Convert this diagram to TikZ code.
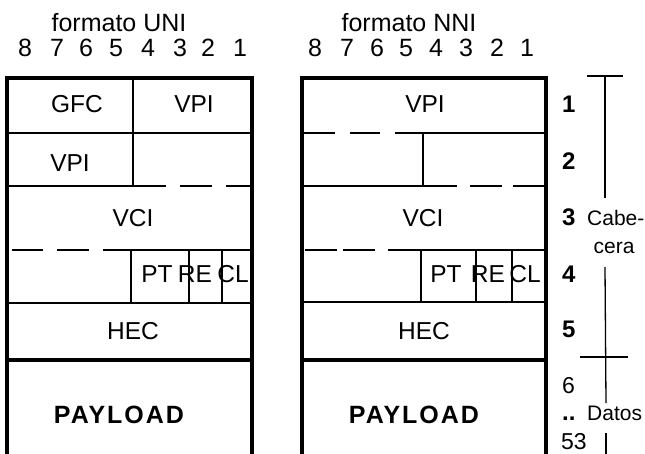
\documentclass[tikz,border=0pt]{standalone}
\usepackage{fontspec}
\setmainfont{Liberation Sans}
\begin{document}
\begin{tikzpicture}[x=1pt,y=-1pt,
  frame/.style={line width=4.2pt, line join=miter},
  thinline/.style={line width=1.4pt},
  dashseg/.style={line width=2.2pt},
  fld/.style={font=\fontsize{24.5}{26}\selectfont, inner sep=0pt, anchor=base},
  hdr/.style={font=\fontsize{25}{26}\selectfont, inner sep=0pt, anchor=base},
  bigl/.style={font=\fontsize{25}{26}\selectfont\bfseries\addfontfeature{LetterSpace=8}, inner sep=0pt, anchor=base},
  rnum/.style={font=\fontsize{24}{26}\selectfont\bfseries, inner sep=0pt, anchor=base west},
  rdig/.style={font=\fontsize{23}{26}\selectfont, inner sep=0pt, anchor=base west},
  rtxt/.style={font=\fontsize{21}{24}\selectfont, inner sep=0pt, anchor=base west},
  brk/.style={line width=1.3pt}]
\useasboundingbox (0,0) rectangle (645,454);

% ---------- headers ----------
\node[hdr] (tuni) at (119,32) {formato UNI};
\node[hdr] (tnni) at (409,32) {formato NNI};
\foreach \d/\x in {8/25,7/57,6/86,5/116,4/148,3/180,2/208,1/240}
  \node[hdr] (u\d) at (\x,57) {\d};
\foreach \d/\x in {8/315,7/347,6/377,5/406,4/436,3/466,2/497,1/527}
  \node[hdr] (n\d) at (\x,57) {\d};

% ---------- UNI frame ----------
\draw[thinline] (7,133) -- (252,133);
\draw[thinline] (133,78) -- (133,186);
\draw[thinline] (7,186) -- (166,186);
\draw[dashseg] (180,186) -- (212,186) (226,186) -- (252,186);
\draw[dashseg] (12,250) -- (43,250) (57,250) -- (89,250) (103,250) -- (131,250);
\draw[thinline] (131,250) -- (252,250);
\draw[thinline] (131,250) -- (131,303) (189,250) -- (189,303) (222,250) -- (222,303);
\draw[thinline] (7,303) -- (252,303);
\draw[frame] (7,360) -- (252,360);
\draw[frame] (7,456) -- (7,78) -- (252,78) -- (252,456) -- cycle;

\node[fld] (gfc) at (77,113) {GFC};
\node[fld] (uvpi1) at (194,113) {VPI};
\node[fld] (uvpi2) at (70,172) {VPI};
\node[fld] (uvci) at (133,227) {VCI};
\node[fld] (upt) at (157,283) {PT};
\node[fld] (ure) at (195,283) {RE};
\node[fld] (ucl) at (233,283) {CL};
\node[fld] (uhec) at (133,339) {HEC};
\node[bigl] (upay) at (119,423) {PAYLOAD};

% ---------- NNI frame ----------
\draw[dashseg] (302,133) -- (335,133) (350,133) -- (380,133) (395,133) -- (423,133);
\draw[thinline] (423,133) -- (546,133);
\draw[thinline] (423,133) -- (423,186);
\draw[thinline] (302,186) -- (457,186);
\draw[dashseg] (470,186) -- (502,186) (513,186) -- (546,186);
\draw[dashseg] (305,250) -- (337,250) (343,250) -- (375,250) (388,250) -- (420,250);
\draw[thinline] (420,250) -- (546,250);
\draw[thinline] (421,250) -- (421,302) (476,250) -- (476,302) (512,250) -- (512,302);
\draw[thinline] (302,302) -- (546,302);
\draw[frame] (302,360) -- (546,360);
\draw[frame] (302,456) -- (302,78) -- (546,78) -- (546,456) -- cycle;

\node[fld] (nvpi) at (425,113) {VPI};
\node[fld] (nvci) at (423,227) {VCI};
\node[fld] (npt) at (446,283) {PT};
\node[fld] (nre) at (488,283) {RE};
\node[fld] (ncl) at (525,283) {CL};
\node[fld] (nhec) at (424,339) {HEC};
\node[bigl] (npay) at (414,423) {PAYLOAD};

% ---------- right column ----------
\node[rnum] (r1) at (562,113) {1};
\node[rnum] (r2) at (562,170) {2};
\node[rnum] (r3) at (562,226) {3};
\node[rnum] (r4) at (562,283) {4};
\node[rnum] (r5) at (562,337) {5};
\node[rdig] (r6) at (562,393) {6};
\node[rnum] (rdots) at (562,420) {..};
\node[rdig] (r53) at (561,449) {53};
\node[rtxt] (cab) at (587,226) {Cabe-};
\node[rtxt, anchor=base] (cera) at (614,254) {cera};
\node[rtxt] (datos) at (587,420) {Datos};

\coordinate (bt) at (605,76);
\coordinate (bm) at (606,357);
\draw[brk] (587,76) -- (623,76);
\draw[brk] (bt) -- (605,198);
\draw[brk] (605,267) -- (606,403);
\draw[brk] (580,357) -- (628,357);
\draw[brk] (606,433) -- (606,456);
\end{tikzpicture}
\end{document}
